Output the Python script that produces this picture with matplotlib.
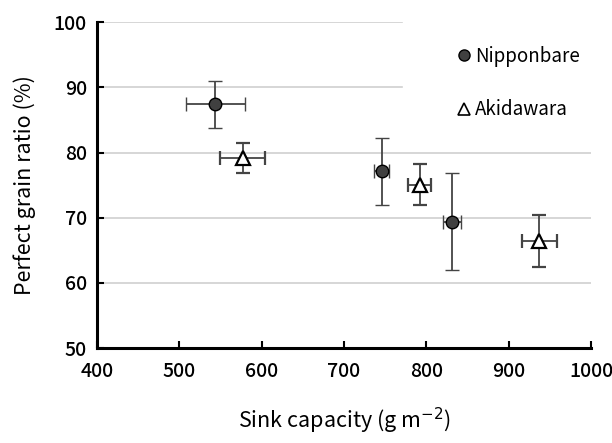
import numpy as np
import matplotlib.pyplot as plt
from matplotlib.lines import Line2D

# Sink capacity (g m-2) and perfect grain ratio (%) with error bars
nip_x = [544, 746, 831]
nip_xerr = [36, 9, 11]
nip_y = [87.4, 77.1, 69.4]
nip_yerr = [3.6, 5.2, 7.4]

aki_x = [577, 792, 937]
aki_xerr = [27, 14, 21]
aki_y = [79.2, 75.1, 66.5]
aki_yerr = [2.3, 3.2, 4.0]

xticks = [400, 500, 600, 700, 800, 900, 1000]
yticks = [50, 60, 70, 80, 90, 100]

plt.rcParams['font.family'] = ['Noto Sans CJK JP', 'DejaVu Sans']

fig = plt.figure(figsize=(6.12, 4.43), dpi=100)
ax = fig.add_axes([0.158, 0.214, 0.808, 0.736])

# grid lines; upper two stop where the legend sits
for yv in yticks[1:]:
    xend = 770 if yv >= 90 else 1000
    ax.plot([400, xend], [yv, yv], color='#d0d0d0', lw=1.2, zorder=0)

ekw = dict(ecolor='#444444', elinewidth=1.3, capsize=5, capthick=1.3, ls='none', zorder=2)
ax.errorbar(nip_x, nip_y, xerr=nip_xerr, yerr=nip_yerr, marker='o', ms=9,
            mfc='#404040', mec='black', mew=1.0, **ekw)
ax.errorbar(aki_x, aki_y, xerr=aki_xerr, yerr=aki_yerr, marker='^', ms=10,
            mfc='white', mec='black', mew=1.6, **ekw)

ax.set_xlim(400, 1000)
ax.set_ylim(50, 100)
ax.set_xticks(xticks)
ax.set_yticks(yticks)
ax.tick_params(direction='in', length=5, width=1.5, labelsize=14)
ax.tick_params(axis='x', pad=10)
ax.tick_params(axis='y', pad=7)
for lab in ax.get_xticklabels() + ax.get_yticklabels():
    lab.set_fontweight('medium')

for side in ['top', 'right']:
    ax.spines[side].set_visible(False)
for side in ['left', 'bottom']:
    ax.spines[side].set_linewidth(2.2)

ax.set_xlabel('Sink capacity (g m$^{-2}$)', fontsize=15.5, labelpad=18)
ax.set_ylabel('Perfect grain ratio (%)', fontsize=15.5, labelpad=13)

handles = [
    Line2D([], [], ls='none', marker='o', ms=8, mfc='#404040', mec='black'),
    Line2D([], [], ls='none', marker='^', ms=8, mfc='white', mec='black', mew=1.2),
]
ax.legend(handles, ['Nipponbare', 'Akidawara'], loc='upper left',
          bbox_to_anchor=(0.69, 0.98), frameon=False, fontsize=13.5,
          handletextpad=0.1, handlelength=1.0, labelspacing=1.75)

fig.savefig('out.png', dpi=100)
